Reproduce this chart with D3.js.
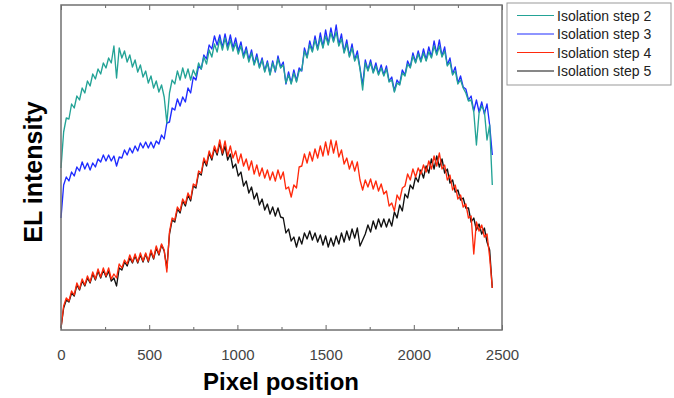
<!DOCTYPE html>
<html>
<head>
<meta charset="utf-8">
<script src="https://cdn.jsdelivr.net/npm/d3@7"></script>
<style>
  body { margin: 0; background: #fff; }
  text { font-family: "Liberation Sans", Arial, sans-serif; }
</style>
</head>
<body>
<div id="chart"></div>
<script>
// pixel positions sampled every 15 px along the cell
var pixelPos = d3.range(0, 2446, 15);

var step2 = [
  162,198,212,211,226,222,234,230,242,237,
  249,244,256,251,261,256,267,262,272,267,
  284,252,282,272,279,268,275,263,270,258,
  265,253,259,247,254,242,249,238,245,233,
  207,237,250,246,259,250,262,252,261,250,
  260,254,267,261,273,266,280,273,286,278,
  291,280,292,280,290,279,287,276,284,272,
  280,268,277,265,273,262,270,258,267,255,
  267,259,271,262,265,247,255,246,257,248,
  259,260,279,272,285,278,290,280,292,282,
  294,285,297,288,298,284,291,277,286,273,
  282,269,275,261,240,267,259,267,257,264,
  255,262,254,261,248,250,238,247,245,257,
  254,266,262,274,267,276,268,277,269,278,
  272,284,275,284,273,279,264,268,255,259,
  246,250,242,237,229,230,218,185,217,224,
  219,190,205,145
];
var step3 = [
  112,145,153,149,158,154,163,159,168,161,
  167,160,167,163,171,168,175,169,175,169,
  174,164,173,172,180,175,182,177,184,179,
  187,182,188,182,188,182,189,186,195,191,
  207,208,222,220,231,224,233,228,242,237,
  253,250,264,261,275,271,285,281,294,285,
  295,282,296,283,295,282,292,279,288,274,
  283,270,280,266,276,263,272,259,269,256,
  269,258,274,263,268,246,258,247,260,249,
  262,259,282,273,289,279,294,281,297,283,
  300,286,302,289,305,285,296,278,290,274,
  286,270,279,262,245,270,260,270,258,267,
  256,265,255,264,249,253,239,250,246,260,
  255,269,263,277,268,279,269,281,270,283,
  273,289,276,290,274,283,265,272,256,263,
  247,254,243,241,230,234,219,230,218,228,
  216,226,205,175
];
var step4 = [
  2,24,32,29,39,35,47,41,51,45,
  54,48,58,51,61,53,62,54,62,51,
  56,52,66,62,70,66,75,68,76,68,
  77,69,77,69,80,72,84,76,86,80,
  58,98,112,110,123,119,131,126,137,131,
  146,144,159,157,172,166,179,172,184,177,
  190,177,189,174,184,172,179,167,176,164,
  171,160,169,156,165,154,162,152,160,150,
  158,149,160,151,158,141,143,133,145,142,
  163,164,176,167,178,169,181,172,184,174,
  188,175,190,177,189,173,180,166,172,161,
  169,159,168,150,140,150,143,151,141,149,
  139,146,136,139,124,127,119,135,130,142,
  144,156,150,161,153,162,156,165,158,169,
  161,174,164,177,161,165,150,155,140,145,
  131,135,123,126,112,114,76,108,99,105,
  93,96,73,42
];
var step5 = [
  2,22,30,28,37,34,45,40,49,44,
  52,47,56,50,59,52,60,53,59,49,
  52,44,62,60,68,64,72,67,74,67,
  75,68,76,68,78,71,82,75,85,79,
  62,96,110,108,121,117,129,124,135,129,
  144,142,157,155,170,164,177,170,182,175,
  187,175,184,170,176,162,166,154,158,144,
  149,137,143,131,137,125,131,120,126,116,
  123,114,122,113,112,97,101,89,93,83,
  93,86,97,91,99,90,97,88,95,85,
  94,83,92,84,94,86,97,88,99,90,
  101,92,102,84,90,96,105,98,109,101,
  111,103,111,103,111,104,118,112,125,119,
  136,132,145,141,153,148,160,152,164,157,
  171,161,174,163,171,157,161,147,150,138,
  140,130,132,122,122,108,112,100,106,96,
  102,88,80,42
];

var seriesNames = ["Isolation step 2", "Isolation step 3", "Isolation step 4", "Isolation step 5"];
var seriesColors = ["#23a396", "#1f2cff", "#ff2a0c", "#111111"];
var xTicks = [0, 500, 1000, 1500, 2000, 2500];
var xMinor = [250, 750, 1250, 1750, 2250];

function drawChart()
{
  var width = 674, height = 398;
  var plotLeft = 61, plotRight = 502, plotTop = 5, plotBottom = 330;

  var svg = d3.select("#chart").append("svg").attr("width", width).attr("height", height);

  var x = d3.scaleLinear().domain([0, 2500]).range([plotLeft, plotRight]);
  var y = d3.scaleLinear().domain([0, 325]).range([plotBottom, plotTop]);

  var allSeries = [step2, step3, step4, step5];
  // draw order: blue under teal, black under red
  var order = [1, 0, 3, 2];

  var line = d3.line()
    .x(function(d, i) { return x(pixelPos[i]); })
    .y(function(d) { return y(d); });

  order.forEach(function(k) {
    svg.append("path").datum(allSeries[k])
      .attr("fill", "none")
      .attr("stroke", seriesColors[k])
      .attr("stroke-width", 1.35)
      .attr("stroke-linejoin", "round")
      .attr("d", line);
  });

  // axes, ticks pointing inwards
  var bottomAxis = svg.append("g").attr("transform", "translate(0," + plotBottom + ")")
    .call(d3.axisBottom(x).tickValues(xTicks).tickSize(-5).tickPadding(19).tickFormat(d3.format("d")));
  var bottomMinor = svg.append("g").attr("transform", "translate(0," + plotBottom + ")")
    .call(d3.axisBottom(x).tickValues(xMinor).tickSize(-3).tickFormat(""));
  var topAxis = svg.append("g").attr("transform", "translate(0," + plotTop + ")")
    .call(d3.axisTop(x).tickValues(xTicks).tickSize(-5).tickFormat(""));
  var topMinor = svg.append("g").attr("transform", "translate(0," + plotTop + ")")
    .call(d3.axisTop(x).tickValues(xMinor).tickSize(-3).tickFormat(""));

  [bottomAxis, bottomMinor, topAxis, topMinor].forEach(function(g) {
    g.select(".domain").remove();
    g.selectAll(".tick line").attr("stroke", "#666").attr("stroke-width", 1);
  });
  bottomAxis.selectAll(".tick text")
    .attr("fill", "#444")
    .style("font-size", "15px")
    .style("font-family", "'Liberation Sans', Arial, sans-serif");

  // frame
  svg.append("rect")
    .attr("x", plotLeft).attr("y", plotTop)
    .attr("width", plotRight - plotLeft).attr("height", plotBottom - plotTop)
    .attr("fill", "none").attr("stroke", "#707070").attr("stroke-width", 1.5);

  // axis titles
  svg.append("text")
    .attr("x", 281).attr("y", 390)
    .attr("text-anchor", "middle")
    .style("font-size", "24px").style("font-weight", "bold")
    .text("Pixel position");

  svg.append("text")
    .attr("transform", "translate(42,172) rotate(-90)")
    .attr("text-anchor", "middle")
    .style("font-size", "25px").style("font-weight", "bold")
    .text("EL intensity");

  // legend
  var legend = svg.append("g");
  legend.append("rect")
    .attr("x", 507).attr("y", 3).attr("width", 164).attr("height", 82)
    .attr("fill", "#fff").attr("stroke", "#999").attr("stroke-width", 1);

  seriesNames.forEach(function(name, i) {
    var ly = 15.5 + i * 18.5;
    legend.append("line")
      .attr("x1", 517).attr("x2", 554).attr("y1", ly).attr("y2", ly)
      .attr("stroke", seriesColors[i]).attr("stroke-width", 1.2);
    legend.append("text")
      .attr("x", 557).attr("y", ly + 5)
      .style("font-size", "14px").attr("fill", "#222")
      .text(name);
  });
}

drawChart();
</script>
</body>
</html>
